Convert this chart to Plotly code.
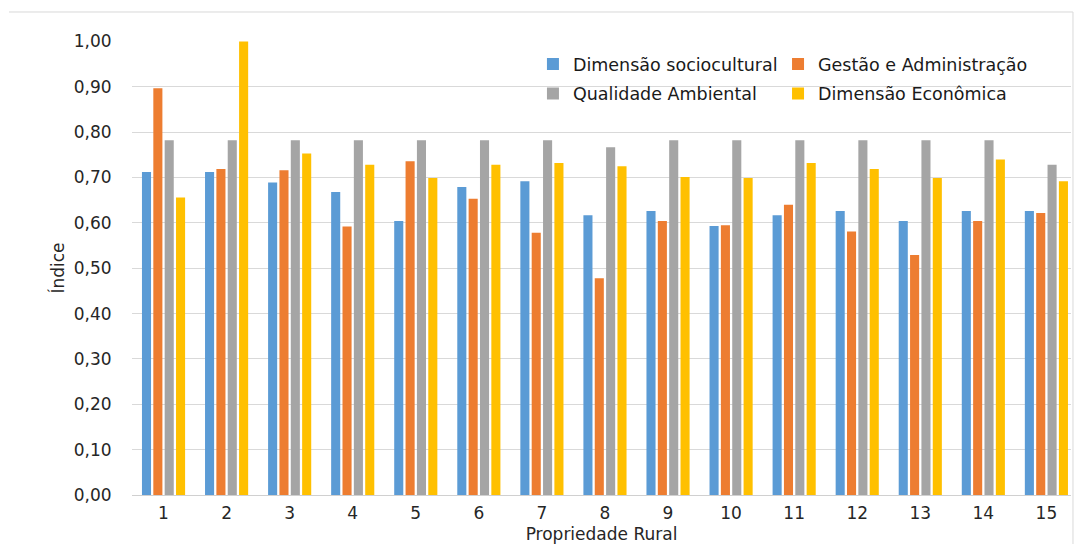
import plotly.graph_objects as go

# Índices por propriedade rural (1 a 15)
propriedades = list(range(1, 16))
tick_labels = [str(p) for p in propriedades]

sociocultural = [0.712, 0.712, 0.689, 0.668, 0.604, 0.679, 0.692, 0.617,
                 0.626, 0.593, 0.617, 0.626, 0.604, 0.626, 0.626]
gestao = [0.897, 0.719, 0.716, 0.592, 0.736, 0.653, 0.578, 0.478,
          0.604, 0.595, 0.640, 0.581, 0.529, 0.604, 0.622]
ambiental = [0.782, 0.782, 0.782, 0.782, 0.782, 0.782, 0.782, 0.767,
             0.782, 0.782, 0.782, 0.782, 0.782, 0.782, 0.728]
economica = [0.656, 1.000, 0.753, 0.728, 0.699, 0.728, 0.732, 0.725,
             0.701, 0.699, 0.732, 0.719, 0.699, 0.740, 0.692]

# cada série tem sua própria legenda, dispostas em grade 2 x 2
series = [
    ("Dimensão sociocultural", sociocultural, "#5B9BD5", "legend", 0.427, 0.949),
    ("Gestão e Administração", gestao, "#ED7D31", "legend2", 0.688, 0.949),
    ("Qualidade Ambiental", ambiental, "#A5A5A5", "legend3", 0.427, 0.884),
    ("Dimensão Econômica", economica, "#FFC000", "legend4", 0.688, 0.884),
]

FONT = "DejaVu Sans"
TXT = "#262626"

fig = go.Figure()
legends = {}
for name, vals, color, leg, lx, ly in series:
    fig.add_trace(go.Bar(
        x=propriedades, y=vals, name=name,
        marker=dict(color=color, line=dict(width=0)),
        legend=leg,
    ))
    legends[leg] = dict(
        x=lx, y=ly, xanchor="left", yanchor="middle",
        orientation="v", itemwidth=30,
        font=dict(family=FONT, size=17.5, color="#1a1a1a"),
        bgcolor="rgba(255,255,255,0)",
    )

fig.update_layout(
    width=1078, height=544,
    margin=dict(l=132, r=7, t=41, b=49),
    paper_bgcolor="white", plot_bgcolor="white",
    barmode="group", bargap=0.28, bargroupgap=0.2,
    separators=",.",
    font=dict(family=FONT, size=17, color=TXT),
    xaxis=dict(
        range=[0.5, 15.39], tickmode="array", tickvals=propriedades,
        ticktext=tick_labels, showgrid=False, zeroline=False,
        showline=True, linecolor="#d0d0d0", linewidth=1,
        ticks="outside", ticklen=3, tickcolor="rgba(0,0,0,0)",
        tickfont=dict(family=FONT, size=17, color=TXT),
        automargin=False,
        title=dict(text="Propriedade Rural", standoff=11,
                   font=dict(family=FONT, size=17, color=TXT)),
    ),
    yaxis=dict(
        range=[0, 1.001], dtick=0.1, tick0=0, tickformat=".2f",
        showgrid=True, gridcolor="#d9d9d9", gridwidth=1,
        zeroline=False, showline=False,
        ticks="outside", ticklen=16, tickcolor="rgba(0,0,0,0)",
        tickfont=dict(family=FONT, size=17, color=TXT),
        automargin=False,
        title=dict(text="Índice", standoff=4,
                   font=dict(family=FONT, size=17, color=TXT)),
    ),
    showlegend=True,
    **legends,
)

# moldura do gráfico (topo e lado direito)
fig.add_shape(type="line", xref="paper", yref="paper",
              x0=-0.131, x1=1.0021, y0=1.0639, y1=1.0639,
              line=dict(color="#d9d9d9", width=1))
fig.add_shape(type="line", xref="paper", yref="paper",
              x0=1.0021, x1=1.0021, y0=-0.2, y1=1.0639,
              line=dict(color="#d9d9d9", width=1))

fig.write_html("out.html")
